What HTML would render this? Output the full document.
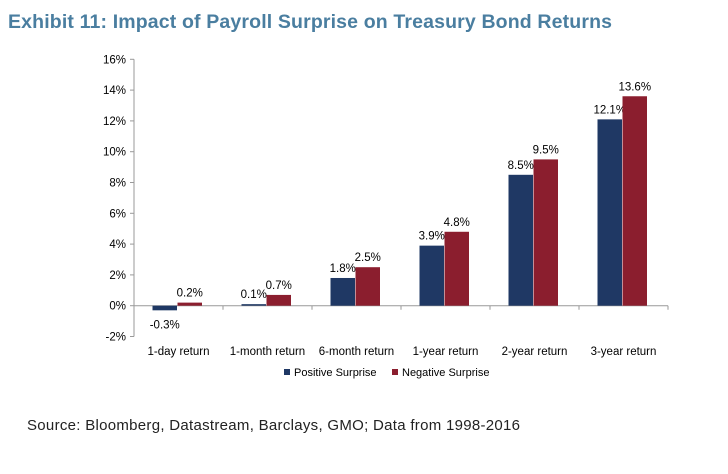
<!DOCTYPE html>
<html><head><meta charset="utf-8"><style>
body{margin:0;background:#fff;font-family:"Liberation Sans",sans-serif;}
</style></head><body>
<svg width="728" height="469" xmlns="http://www.w3.org/2000/svg">
<text x="8" y="28" font-size="19.5" font-weight="bold" fill="#4a7ea0" textLength="604">Exhibit 11: Impact of Payroll Surprise on Treasury Bond Returns</text>
<g id="axes"></g>
<g id="bars"></g>
<g>
<rect x="284" y="369" width="6" height="6" fill="#1f3864"/>
<text x="294" y="376" font-size="11" fill="#000">Positive Surprise</text>
<rect x="392" y="369" width="6" height="6" fill="#8b1e2e"/>
<text x="402" y="376" font-size="11" fill="#000">Negative Surprise</text>
</g>
<text x="27" y="430" font-size="15" fill="#222" textLength="493">Source:  Bloomberg, Datastream, Barclays, GMO; Data from 1998-2016</text>
</svg>
<script>
const categories=["1-day return","1-month return","6-month return","1-year return","2-year return","3-year return"];
const positive=[-0.3,0.1,1.8,3.9,8.5,12.1];
const negative=[0.2,0.7,2.5,4.8,9.5,13.6];
const yTicks=[-2,0,2,4,6,8,10,12,14,16];
const NS="http://www.w3.org/2000/svg";
const x0=134,catW=89,yZero=305.7,pxPer=15.4;
const y=v=>yZero-v*pxPer;
const cx=i=>x0+i*catW;
function mk(tag,attrs,parent){const e=document.createElementNS(NS,tag);for(const k in attrs)e.setAttribute(k,attrs[k]);parent.appendChild(e);return e;}
const axes=document.getElementById('axes'),bars=document.getElementById('bars');
let ax=mk('line',{x1:x0,x2:x0,y1:y(16),y2:y(-2),stroke:'#999'},axes);


yTicks.forEach(t=>{
 let l=mk('line',{x1:x0-4,x2:x0,y1:y(t),y2:y(t),stroke:'#999'},axes);
 
 
 let tx=mk('text',{x:x0-8,y:y(t)+4,'font-size':11.5,'text-anchor':'end'},axes);
 tx.textContent=t+'%';
 
 
});
let xa=mk('line',{x1:x0,x2:cx(categories.length),y1:yZero,y2:yZero,stroke:'#999'},axes);


categories.forEach((c,i)=>{
 let tk=mk('line',{x1:cx(i+1),x2:cx(i+1),y1:yZero,y2:yZero+4,stroke:'#999'},axes);
 
 
 let lb=mk('text',{x:cx(i)+catW/2,y:355,'font-size':11.5,'text-anchor':'middle'},axes);
 lb.textContent=c;
 
 
 [[positive[i],'#1f3864',18.5,'positive'],[negative[i],'#8b1e2e',43.5,'negative']].forEach(([v,col,off,nm])=>{
  const bx=cx(i)+off,bw=24.5;
  let r=mk('rect',{x:bx,y:Math.min(y(v),yZero),width:bw,height:Math.abs(y(v)-yZero),fill:col},bars);
  
  
  let t=mk('text',{x:bx+bw/2,y:v<0?y(v)+18:y(v)-6,'font-size':11.5,'text-anchor':'middle'},bars);
  t.textContent=v.toFixed(1)+'%';
  
  
 });
});
</script>
</body></html>
